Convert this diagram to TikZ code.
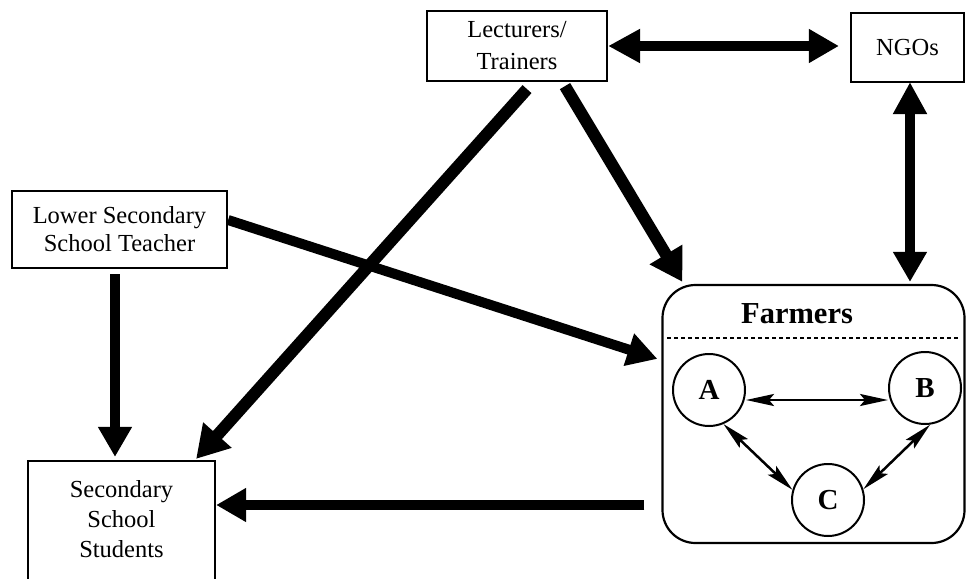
\documentclass[tikz,border=0pt]{standalone}
\usepackage{fontspec}
\setmainfont{Liberation Serif}
\usetikzlibrary{arrows.meta,calc}
\begin{document}
\begin{tikzpicture}[x=1pt,y=-1pt,
  box/.style={draw,line width=2.2pt,inner sep=0pt,align=center},
  txt/.style={font=\fontsize{24.5}{#1}\selectfont},
  bigtip/.style={line width=10pt,-{Triangle[length=30pt,width=32pt]}},
  dbltip/.style={line width=10pt,{Triangle[length=32pt,width=32pt]}-{Triangle[length=30pt,width=32pt]}},
  diagtip/.style={line width=12pt,-{Triangle[length=32pt,width=36pt]}},
  smalltip/.style={line width=2.5pt,{Stealth[length=28pt,width=12pt,inset=5pt]}-{Stealth[length=28pt,width=12pt,inset=5pt]}},
  member/.style={circle,draw,line width=2pt,minimum size=72pt,inner sep=0pt,font=\fontsize{29}{30}\selectfont\bfseries}]
\useasboundingbox (0,0) rectangle (966,578);
\clip (0,0) rectangle (966,578);
% boxes
\node[box,txt=32,minimum width=180pt,minimum height=70pt] (lect) at (517,46) {Lecturers/\\Trainers};
\node[box,txt=28,minimum width=113pt,minimum height=69pt] (ngo) at (907.5,47.5) {NGOs};
\node[box,txt=28,minimum width=215pt,minimum height=77pt] (lst) at (119.5,229.5) {Lower Secondary\\School Teacher};
\node[box,txt=30,minimum width=187pt,minimum height=125pt,text depth=10pt] (stud) at (121.5,523.5) {Secondary\\School\\Students};
% farmers group
\node[draw,line width=2.2pt,rounded corners=33pt,minimum width=302pt,minimum height=258pt,inner sep=0pt] (farm) at (813.5,414) {};
\node[font=\fontsize{30.5}{32}\selectfont\bfseries,anchor=base] (ftitle) at (797,323) {Farmers};
\draw[line width=2.5pt,dash pattern=on 4pt off 3pt] ([xshift=6pt,yshift=-54pt]farm.north west) -- ([xshift=-8pt,yshift=-54pt]farm.north east);
\node[member] (A) at (709,390) {A};
\node[member] (B) at (925,388) {B};
\node[member] (C) at (828,500) {C};
\draw[smalltip] ([yshift=-10pt]A.east) -- ([yshift=-12pt]B.west);
\draw[smalltip] (A.-67) -- (C.164);
\draw[smalltip] (B.-82) -- (C.17);
% connectors
\draw[dbltip] (lect.east) -- ([xshift=-11pt]ngo.west |- lect.east);
\coordinate (ngob) at ([xshift=2.5pt,yshift=1pt]ngo.south);
\draw[dbltip] (ngob) -- ([yshift=2pt]ngob |- farm.north);
\draw[diagtip] ([xshift=48pt,yshift=-4pt]lect.south) -- ([xshift=21pt,yshift=2pt]farm.north west);
\draw[diagtip] ([xshift=10pt,yshift=-7pt]lect.south) -- ([xshift=-20pt,yshift=1pt]stud.north east);
\draw[bigtip] ([yshift=9.5pt]lst.east) -- ([xshift=-4pt,yshift=-75pt]farm.north west);
\draw[bigtip] ([xshift=-4.5pt,yshift=-5pt]lst.south) -- ([xshift=-6.5pt,yshift=3pt]stud.north);
\coordinate (fs) at ([xshift=-17pt,yshift=-91pt]farm.west);
\draw[bigtip] (fs) -- (stud.east |- fs);
\end{tikzpicture}
\end{document}
